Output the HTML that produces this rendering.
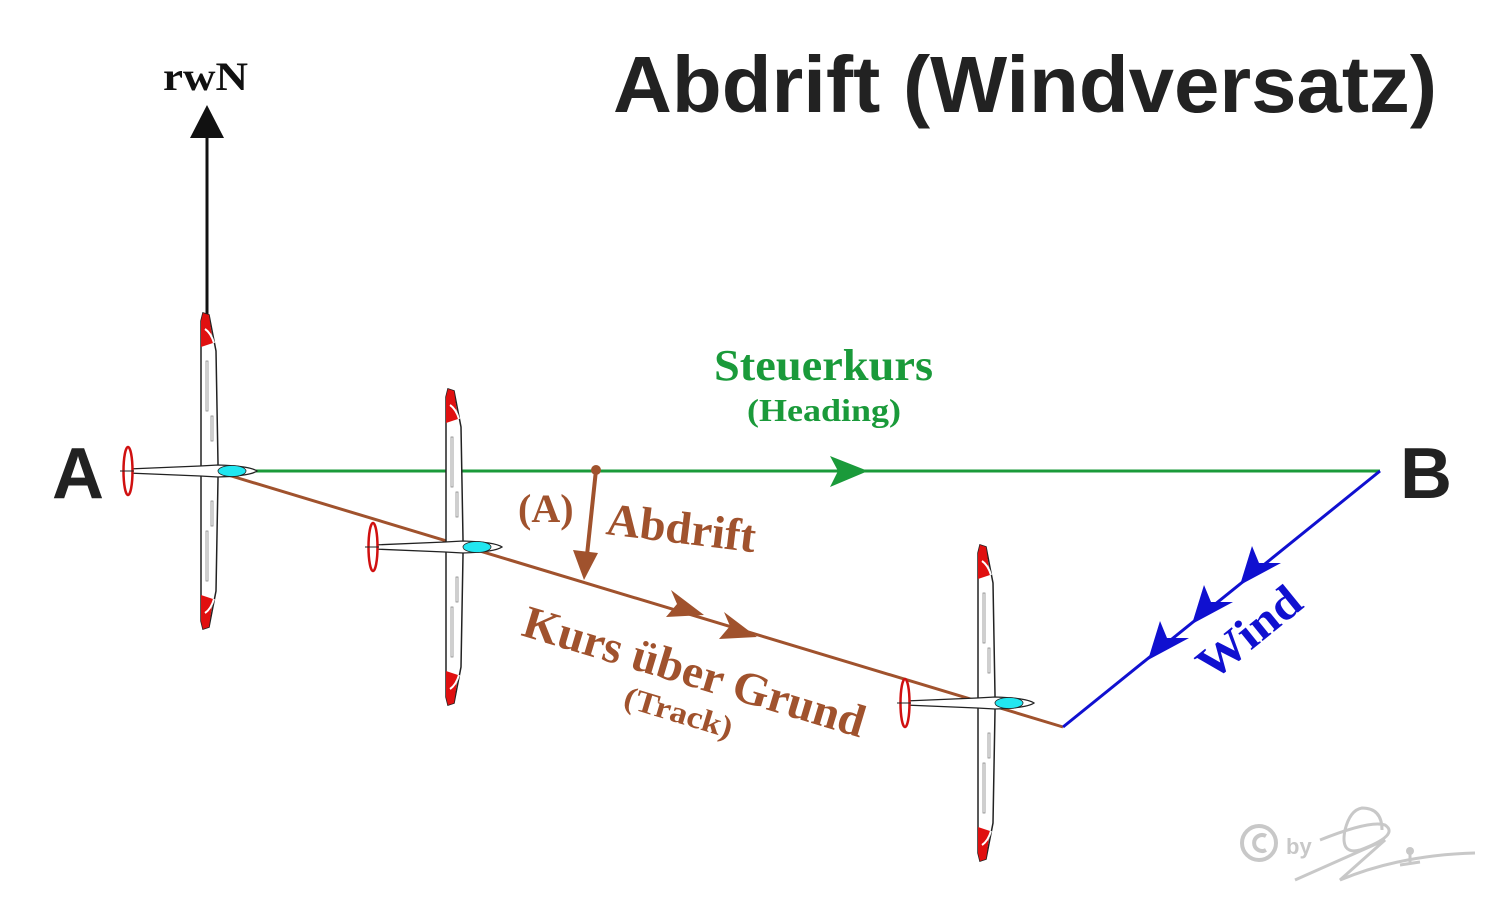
<!DOCTYPE html>
<html><head><meta charset="utf-8"><style>html,body{margin:0;padding:0;background:#fff}svg{display:block}</style></head>
<body>
<svg width="1500" height="910" viewBox="0 0 1500 910" xmlns="http://www.w3.org/2000/svg">
<defs>
<g id="gl">
  <path d="M-9,-150 L-7,-158 L-1,-156 L6,-120 L8,-8 L8,8 L6,120 L-1,156 L-7,158 L-9,150 Z" fill="#fff" stroke="#222" stroke-width="1.5"/>
  <path d="M-9,-150 L-7,-158 L-1,-156 L3,-128 L-9,-124 Z" fill="#e01010"/>
  <path d="M-9,150 L-7,158 L-1,156 L3,128 L-9,124 Z" fill="#e01010"/>
  <path d="M-5,-142 Q1,-138 4,-128" fill="none" stroke="#fff" stroke-width="2"/>
  <path d="M-5,142 Q1,138 4,128" fill="none" stroke="#fff" stroke-width="2"/>
  <rect x="-4" y="-110" width="2" height="50" fill="none" stroke="#888" stroke-width="0.8"/>
  <rect x="1" y="-55" width="2" height="25" fill="none" stroke="#888" stroke-width="0.8"/>
  <rect x="-4" y="60" width="2" height="50" fill="none" stroke="#888" stroke-width="0.8"/>
  <rect x="1" y="30" width="2" height="25" fill="none" stroke="#888" stroke-width="0.8"/>
  <path d="M-82,-2 L-10,-5 L8,-6 Q40,-5 47,0 Q40,5 8,6 L-10,5 L-82,2 Z" fill="#fff" stroke="#222" stroke-width="1.3"/>
  <ellipse cx="22" cy="0" rx="14" ry="5.5" fill="#22e6f0" stroke="#222" stroke-width="0.8"/>
  <ellipse cx="-82" cy="0" rx="4.5" ry="24" fill="#fff" stroke="#d01010" stroke-width="2.5"/>
  <line x1="-90" y1="0" x2="-76" y2="0" stroke="#222" stroke-width="1"/>
</g>
</defs>

<text x="613" y="112" textLength="824" lengthAdjust="spacingAndGlyphs" font-family="Liberation Sans, sans-serif" font-weight="bold" font-size="80" fill="#222">Abdrift (Windversatz)</text>
<text x="163" y="90" textLength="85" lengthAdjust="spacingAndGlyphs" font-family="Liberation Serif, serif" font-weight="bold" font-size="40" fill="#111">rwN</text>
<line x1="207" y1="315" x2="207" y2="135" stroke="#111" stroke-width="3"/>
<polygon points="207,105 190,138 224,138" fill="#111"/>

<text x="52" y="498" font-family="Liberation Sans, sans-serif" font-weight="bold" font-size="72" fill="#222">A</text>
<text x="1400" y="498" font-family="Liberation Sans, sans-serif" font-weight="bold" font-size="72" fill="#222">B</text>

<line x1="255" y1="471" x2="1380" y2="471" stroke="#1a9a3a" stroke-width="3"/>
<polygon points="868,471 830,456 838,471 830,487" fill="#1a9a3a"/>
<text x="714" y="380" textLength="219" lengthAdjust="spacingAndGlyphs" font-family="Liberation Serif, serif" font-weight="bold" font-size="44" fill="#1a9a3a">Steuerkurs</text>
<text x="747" y="421" textLength="154" lengthAdjust="spacingAndGlyphs" font-family="Liberation Serif, serif" font-weight="bold" font-size="32" fill="#1a9a3a">(Heading)</text>

<line x1="228" y1="475" x2="1063" y2="727" stroke="#a0522d" stroke-width="3"/>
<g fill="#a0522d">
<polygon points="704,615 666,617 677,604 671,590"/>
<polygon points="757,637 719,639 730,626 724,612"/>
</g>
<circle cx="596" cy="470" r="5" fill="#a0522d"/>
<line x1="596" y1="470" x2="587" y2="555" stroke="#a0522d" stroke-width="4"/>
<polygon points="584,580 573,550 598,553" fill="#a0522d"/>
<text x="518" y="522" font-family="Liberation Serif, serif" font-weight="bold" font-size="40" fill="#a0522d">(A)</text>
<text x="605" y="534" transform="rotate(7 605 534)" textLength="150" lengthAdjust="spacingAndGlyphs" font-family="Liberation Serif, serif" font-weight="bold" font-size="46" fill="#a0522d">Abdrift</text>
<text x="520" y="635" transform="rotate(16.8 520 635)" textLength="355" lengthAdjust="spacingAndGlyphs" font-family="Liberation Serif, serif" font-weight="bold" font-size="46" fill="#a0522d">Kurs über Grund</text>
<text x="622" y="706" transform="rotate(16.8 622 706)" textLength="112" lengthAdjust="spacingAndGlyphs" font-family="Liberation Serif, serif" font-weight="bold" font-size="31" fill="#a0522d">(Track)</text>

<line x1="1380" y1="471" x2="1063" y2="727" stroke="#1010d0" stroke-width="3"/>
<g fill="#1010d0">
<polygon points="1240,585 1252,546 1259,563 1281,563"/>
<polygon points="1192,624 1204,585 1211,602 1233,602"/>
<polygon points="1148,660 1160,621 1167,638 1189,638"/>
</g>
<text x="1212" y="682" transform="rotate(-39 1212 682)" textLength="120" lengthAdjust="spacingAndGlyphs" font-family="Liberation Serif, serif" font-weight="bold" font-size="46" fill="#1010d0">Wind</text>

<use href="#gl" transform="translate(210 471)"/>
<use href="#gl" transform="translate(455 547)"/>
<use href="#gl" transform="translate(987 703)"/>

<g fill="none" stroke="#c8c8c8" stroke-width="4">
<circle cx="1259" cy="843" r="17"/>
<path d="M1266,836 A8,8 0 1 0 1266,850"/>
</g>
<text x="1286" y="854" font-family="Liberation Sans, sans-serif" font-weight="bold" font-size="22" fill="#c8c8c8">by</text>
<g fill="none" stroke="#c8c8c8" stroke-width="3">
<path d="M1320,840 Q1370,820 1385,825 Q1400,835 1360,850 Q1340,855 1345,830 Q1350,810 1362,808 Q1382,808 1382,830"/>
<path d="M1295,880 L1385,840 L1340,880 Q1400,855 1475,853"/>
<line x1="1400" y1="865" x2="1420" y2="862"/>
<line x1="1410" y1="852" x2="1410" y2="862"/>
</g>
<circle cx="1410" cy="851" r="4" fill="#c8c8c8"/>
</svg>
</body></html>
